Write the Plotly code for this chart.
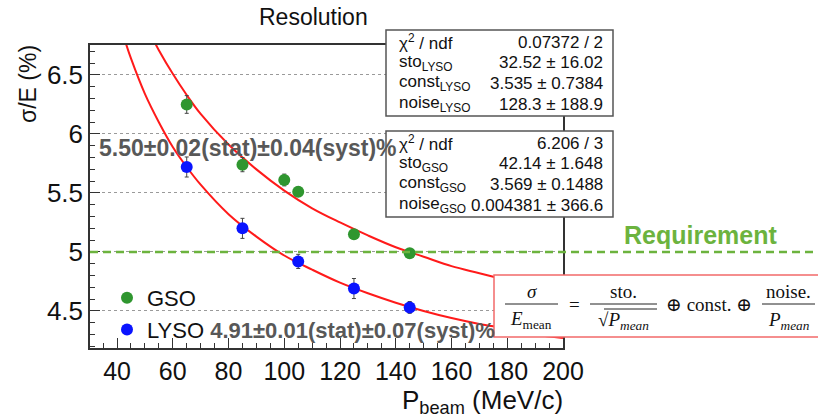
import plotly.graph_objects as go

# ---------------- data ----------------
gso_p = [65, 85, 100, 105, 125, 145]
gso_res = [6.25, 5.74, 5.61, 5.51, 5.15, 4.99]
gso_err = [0.075, 0.06, 0.05, 0.04, 0.035, 0.035]

lyso_p = [65, 85, 105, 125, 145]
lyso_res = [5.72, 5.20, 4.92, 4.69, 4.53]
lyso_err = [0.085, 0.085, 0.06, 0.085, 0.05]

# fit curves
lyso_fit_p = [43, 45, 50, 55, 60, 65, 70, 80, 90, 100, 110, 120, 130, 140, 150, 160, 170, 180, 190, 200]
lyso_fit_res = [6.78, 6.64, 6.34, 6.10, 5.89, 5.72, 5.57, 5.32, 5.13, 4.97, 4.85, 4.74, 4.65, 4.57, 4.50,
                4.44, 4.39, 4.35, 4.30, 4.27]
gso_fit_p = [53, 55, 60, 65, 70, 80, 90, 100, 110, 120, 130, 140, 150, 160, 170, 180, 190, 200]
gso_fit_res = [6.80, 6.71, 6.51, 6.33, 6.17, 5.91, 5.70, 5.52, 5.37, 5.25, 5.14, 5.04, 4.96, 4.88, 4.82,
               4.76, 4.70, 4.65]

requirement = 5.0

x_ticks = [40, 60, 80, 100, 120, 140, 160, 180, 200]
y_ticks = [4.5, 5, 5.5, 6, 6.5]

lyso_stats = [("χ<sup>2</sup> / ndf", "0.07372 / 2"),
              ("sto<sub>LYSO</sub>", "32.52 ± 16.02"),
              ("const<sub>LYSO</sub>", "3.535 ± 0.7384"),
              ("noise<sub>LYSO</sub>", "128.3 ± 188.9")]
gso_stats = [("χ<sup>2</sup> / ndf", "6.206 / 3"),
             ("sto<sub>GSO</sub>", "42.14 ± 1.648"),
             ("const<sub>GSO</sub>", "3.569 ± 0.1488"),
             ("noise<sub>GSO</sub>", "0.004381 ± 366.6")]

gso_label = "5.50±0.02(stat)±0.04(syst)%"
lyso_label = "4.91±0.01(stat)±0.07(syst)%"

# ---------------- layout helpers (pixel -> paper) ----------------
W, H = 818, 417
L, R, T, B = 90, 563, 45, 348


def px(x):
    return (x - L) / (R - L)


def py(y):
    return (B - y) / (B - T)


SANS = "Liberation Sans, Arial, Helvetica, sans-serif"
SERIF = "Liberation Serif, DejaVu Serif, serif"
GREEN = "#2f962f"
BLUE = "#0a14ff"
FIT_RED = "#ff1a1a"
REQ_GREEN = "#6cb33e"
GRAYTXT = "#585858"

fig = go.Figure()

fig.add_trace(go.Scatter(x=gso_fit_p, y=gso_fit_res, mode="lines", line=dict(color=FIT_RED, width=2, shape="spline"),
                         showlegend=False, hoverinfo="skip"))
fig.add_trace(go.Scatter(x=lyso_fit_p, y=lyso_fit_res, mode="lines", line=dict(color=FIT_RED, width=2, shape="spline"),
                         showlegend=False, hoverinfo="skip"))

fig.add_trace(go.Scatter(x=gso_p, y=gso_res, mode="markers", name="GSO", legendgroup="g",
                         marker=dict(color=GREEN, size=12),
                         error_y=dict(type="data", array=gso_err, color="#444", thickness=1, width=2)))
fig.add_trace(go.Scatter(x=lyso_p, y=lyso_res, mode="markers",
                         name="LYSO <span style='color:" + GRAYTXT + "'><b>" + lyso_label + "</b></span>",
                         legendgroup="l",
                         marker=dict(color=BLUE, size=12),
                         error_y=dict(type="data", array=lyso_err, color="#444", thickness=1, width=2)))

shapes = []
# requirement line (extends past the frame)
shapes.append(dict(type="line", xref="paper", yref="y", x0=0, x1=px(818), y0=requirement, y1=requirement,
                   line=dict(color=REQ_GREEN, width=2.5, dash="8px,5px"), layer="above"))


def stat_box(y0, y1, rows):
    shapes.append(dict(type="rect", xref="paper", yref="paper", x0=px(386), x1=px(613), y0=py(y1), y1=py(y0),
                       fillcolor="white", line=dict(color="#555", width=1.5), layer="above"))
    anns = []
    for i, (lab, val) in enumerate(rows):
        yc = y0 + 12 + i * 20.7
        anns.append(dict(x=px(397), y=py(yc), xref="paper", yref="paper", text=lab, showarrow=False,
                         xanchor="left", yanchor="middle", font=dict(family=SANS, size=17, color="#111")))
        anns.append(dict(x=px(605), y=py(yc), xref="paper", yref="paper", text=val, showarrow=False,
                         xanchor="right", yanchor="middle", font=dict(family=SANS, size=17, color="#111")))
    return anns


annotations = []
annotations += stat_box(30, 116, lyso_stats)
annotations += stat_box(131, 217, gso_stats)

# formula box
shapes.append(dict(type="rect", xref="paper", yref="paper", x0=px(494), x1=px(830), y0=py(337), y1=py(275),
                   fillcolor="white", line=dict(color="#f26a6a", width=1.5), layer="above"))
for xa, xb in [(505, 558), (590, 657), (762, 815)]:
    shapes.append(dict(type="line", xref="paper", yref="paper", x0=px(xa), x1=px(xb), y0=py(304), y1=py(304),
                       line=dict(color="#222", width=1), layer="above"))
# sqrt overline
shapes.append(dict(type="line", xref="paper", yref="paper", x0=px(604), x1=px(657), y0=py(309), y1=py(309),
                   line=dict(color="#222", width=1), layer="above"))


def ftext(x, y, text, size=19):
    return dict(x=px(x), y=py(y), xref="paper", yref="paper", text=text, showarrow=False,
                xanchor="center", yanchor="middle", font=dict(family=SERIF, size=size, color="#111"))


annotations += [
    ftext(532, 291, "<i>σ</i>"),
    ftext(531, 320, "<i>E</i><sub>mean</sub>"),
    ftext(574, 304, "="),
    ftext(623, 291, "sto."),
    ftext(623, 321, "√<i>P<sub>mean</sub></i>"),
    ftext(709, 304, "⊕ const. ⊕"),
    ftext(788, 291, "noise."),
    ftext(789, 321, "<i>P<sub>mean</sub></i>"),
]

# other texts
annotations += [
    dict(x=px(313), y=py(17), xref="paper", yref="paper", text="Resolution", showarrow=False,
         xanchor="center", yanchor="middle", font=dict(family=SANS, size=23, color="#111")),
    dict(x=px(28), y=py(84), xref="paper", yref="paper", text="σ/E (%)", showarrow=False, textangle=-90,
         xanchor="center", yanchor="middle", font=dict(family=SANS, size=23, color="#111")),
    dict(x=px(565), y=py(401), xref="paper", yref="paper", text="P<sub>beam</sub> (MeV/c)", showarrow=False,
         xanchor="right", yanchor="middle", font=dict(family=SANS, size=26, color="#111")),
    dict(x=px(97), y=py(148), xref="paper", yref="paper", text="<b>" + gso_label + "</b>", showarrow=False,
         xanchor="left", yanchor="middle", font=dict(family=SANS, size=23, color=GRAYTXT)),
    dict(x=px(700), y=py(235), xref="paper", yref="paper", text="<b>Requirement</b>", showarrow=False,
         xanchor="center", yanchor="middle", font=dict(family=SANS, size=25, color=REQ_GREEN)),
]

axis_common = dict(showline=True, linecolor="#333", linewidth=1.5, mirror=True, ticks="inside",
                   tickcolor="#333", ticklen=10, tickwidth=1, zeroline=False)

fig.update_layout(
    width=W, height=H,
    margin=dict(l=L, r=W - R, t=T, b=H - B, pad=0),
    paper_bgcolor="white", plot_bgcolor="white",
    xaxis=dict(range=[30.3, 200], tickvals=x_ticks, showgrid=False,
               tickfont=dict(family=SANS, size=25, color="#111"),
               minor=dict(dtick=5, tick0=0, ticks="inside", ticklen=5, tickcolor="#333", showgrid=False),
               **axis_common),
    yaxis=dict(range=[4.186, 6.754], tickvals=y_ticks, showgrid=True, griddash="dot", gridcolor="#9a9a9a",
               gridwidth=1, tickfont=dict(family=SANS, size=26, color="#111"),
               minor=dict(dtick=0.1, tick0=0, ticks="inside", ticklen=5, tickcolor="#333", showgrid=False),
               **axis_common),
    shapes=shapes,
    annotations=annotations,
    showlegend=True,
    legend=dict(x=px(107), y=py(277), xanchor="left", yanchor="top", bgcolor="rgba(0,0,0,0)",
                font=dict(family=SANS, size=22, color="#111"), traceorder="grouped", tracegroupgap=0,
                itemsizing="trace"),
)

fig.write_html("out.html", config={"displayModeBar": False},
               post_script="document.body.style.margin='0';document.body.style.padding='0';")
